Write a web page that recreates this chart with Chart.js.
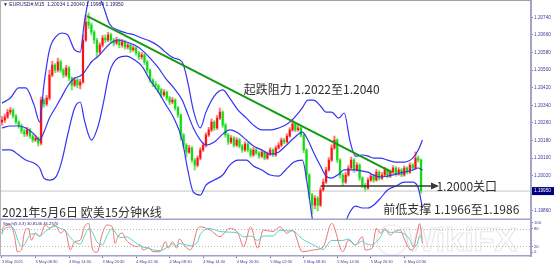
<!DOCTYPE html>
<html>
<head>
<meta charset="utf-8">
<script src="https://cdn.jsdelivr.net/npm/chart.js@4.4.1/dist/chart.umd.min.js"></script>
<style>
  html, body { margin: 0; padding: 0; background: #fff; }
  #wrap { position: relative; width: 554px; height: 265px; overflow: hidden; }
  #priceChart { position: absolute; left: 0; top: 0; }
  #stochChart { position: absolute; left: 0; top: 220px; }
</style>
</head>
<body>
<div id="wrap">
  <canvas id="priceChart" width="554" height="220"></canvas>
  <canvas id="stochChart" width="554" height="45"></canvas>
</div>
<script>
// EURUSD M15 - candles shown every 30 min, x counts M15 bars from 3 May 02:30

const barStep = 2;
const firstOpen = 1.20264;
const closes = [
  1.20273, 1.20287, 1.20309, 1.20318, 1.20291, 1.20264, 1.20246, 1.20223, 1.20209, 1.20228,
  1.20200, 1.20182, 1.20191, 1.20168, 1.20364, 1.20346, 1.20373, 1.20478, 1.20523, 1.20500,
  1.20537, 1.20500, 1.20478, 1.20510, 1.20464, 1.20432, 1.20455, 1.20432, 1.20446, 1.20637,
  1.20719, 1.20705, 1.20673, 1.20637, 1.20582, 1.20614, 1.20646, 1.20637, 1.20660, 1.20637,
  1.20623, 1.20637, 1.20614, 1.20628, 1.20605, 1.20614, 1.20592, 1.20601, 1.20578, 1.20560,
  1.20569, 1.20537, 1.20500, 1.20455, 1.20437, 1.20428, 1.20410, 1.20387, 1.20400, 1.20373,
  1.20355, 1.20364, 1.20328, 1.20296, 1.20205, 1.20159, 1.20127, 1.20146, 1.20091, 1.20068,
  1.20100, 1.20137, 1.20159, 1.20205, 1.20228, 1.20264, 1.20237, 1.20282, 1.20309, 1.20250,
  1.20205, 1.20173, 1.20191, 1.20159, 1.20182, 1.20155, 1.20137, 1.20164, 1.20137, 1.20114,
  1.20137, 1.20123, 1.20109, 1.20127, 1.20100, 1.20118, 1.20137, 1.20114, 1.20146, 1.20159,
  1.20182, 1.20173, 1.20200, 1.20228, 1.20255, 1.20228, 1.20237, 1.20205, 1.20137, 1.20023,
  1.19932, 1.19886, 1.19918, 1.19886, 1.19955, 1.19991, 1.20046, 1.20091, 1.20146, 1.20182,
  1.20091, 1.20023, 1.19991, 1.20023, 1.20055, 1.20091, 1.20046, 1.20068, 1.20009, 1.19977,
  1.19964, 1.20000, 1.20018, 1.20000, 1.20036, 1.20009, 1.20023, 1.20046, 1.20018, 1.20036,
  1.20055, 1.20027, 1.20046, 1.20023, 1.20055, 1.20036, 1.20068, 1.20055, 1.20100, 1.20091, 1.19950
];
const highs = [
  1.20290, 1.20300, 1.20322, 1.20330, 1.20325, 1.20298, 1.20270, 1.20255, 1.20232, 1.20240,
  1.20235, 1.20208, 1.20203, 1.20196, 1.20378, 1.20372, 1.20385, 1.20500, 1.20540, 1.20530,
  1.20555, 1.20546, 1.20508, 1.20522, 1.20516, 1.20470, 1.20466, 1.20462, 1.20458, 1.20660,
  1.20750, 1.20760, 1.20715, 1.20680, 1.20645, 1.20625, 1.20658, 1.20660, 1.20672, 1.20668,
  1.20645, 1.20650, 1.20642, 1.20640, 1.20636, 1.20625, 1.20620, 1.20612, 1.20608, 1.20585,
  1.20580, 1.20575, 1.20545, 1.20506, 1.20462, 1.20448, 1.20435, 1.20418, 1.20412, 1.20405,
  1.20380, 1.20376, 1.20370, 1.20335, 1.20300, 1.20212, 1.20166, 1.20158, 1.20152, 1.20098,
  1.20110, 1.20148, 1.20170, 1.20215, 1.20240, 1.20278, 1.20270, 1.20295, 1.20328, 1.20315,
  1.20258, 1.20212, 1.20202, 1.20198, 1.20193, 1.20190, 1.20162, 1.20175, 1.20170, 1.20144,
  1.20148, 1.20145, 1.20130, 1.20138, 1.20133, 1.20128, 1.20147, 1.20142, 1.20155, 1.20170,
  1.20192, 1.20190, 1.20210, 1.20238, 1.20273, 1.20262, 1.20250, 1.20242, 1.20210, 1.20142,
  1.20030, 1.19940, 1.19930, 1.19925, 1.19965, 1.20005, 1.20058, 1.20102, 1.20160, 1.20200,
  1.20188, 1.20098, 1.20030, 1.20035, 1.20066, 1.20105, 1.20098, 1.20080, 1.20074, 1.20015,
  1.19985, 1.20010, 1.20030, 1.20025, 1.20048, 1.20042, 1.20035, 1.20058, 1.20052, 1.20046,
  1.20066, 1.20060, 1.20056, 1.20052, 1.20064, 1.20060, 1.20078, 1.20075, 1.20128, 1.20110, 1.20096
];
const lows = [
  1.20250, 1.20262, 1.20280, 1.20298, 1.20282, 1.20255, 1.20236, 1.20212, 1.20198, 1.20200,
  1.20190, 1.20172, 1.20175, 1.20155, 1.20160, 1.20332, 1.20338, 1.20365, 1.20470, 1.20488,
  1.20492, 1.20490, 1.20466, 1.20470, 1.20452, 1.20410, 1.20425, 1.20420, 1.20415, 1.20440,
  1.20630, 1.20690, 1.20660, 1.20620, 1.20560, 1.20575, 1.20605, 1.20625, 1.20630, 1.20625,
  1.20610, 1.20615, 1.20602, 1.20605, 1.20595, 1.20596, 1.20580, 1.20585, 1.20568, 1.20548,
  1.20550, 1.20525, 1.20488, 1.20444, 1.20425, 1.20415, 1.20398, 1.20376, 1.20380, 1.20362,
  1.20344, 1.20348, 1.20318, 1.20285, 1.20182, 1.20148, 1.20105, 1.20120, 1.20080, 1.20046,
  1.20060, 1.20092, 1.20130, 1.20150, 1.20198, 1.20220, 1.20226, 1.20230, 1.20275, 1.20240,
  1.20195, 1.20162, 1.20166, 1.20150, 1.20152, 1.20146, 1.20126, 1.20130, 1.20128, 1.20104,
  1.20108, 1.20115, 1.20098, 1.20102, 1.20092, 1.20094, 1.20112, 1.20106, 1.20108, 1.20140,
  1.20152, 1.20165, 1.20168, 1.20195, 1.20222, 1.20220, 1.20222, 1.20196, 1.20125, 1.20005,
  1.19915, 1.19846, 1.19870, 1.19860, 1.19880, 1.19948, 1.19985, 1.20040, 1.20085, 1.20140,
  1.20080, 1.20010, 1.19975, 1.19985, 1.20018, 1.20048, 1.20035, 1.20040, 1.19998, 1.19965,
  1.19950, 1.19958, 1.19993, 1.19990, 1.19995, 1.20000, 1.20002, 1.20018, 1.20010, 1.20012,
  1.20030, 1.20018, 1.20022, 1.20015, 1.20018, 1.20028, 1.20030, 1.20046, 1.20050, 1.20082, 1.19940
];

// Bollinger bands, read at these M15 bar positions
const bandIdx = [
  0, 6, 12, 17, 23, 27, 30, 34, 39, 43, 47, 52, 56, 59, 62, 64, 69, 73, 77, 83,
  89, 95, 100, 106, 112, 117, 123, 129, 133, 137, 142, 146, 152, 158, 163, 169, 175, 180, 186, 192,
  198, 203, 209, 215, 219, 223, 228, 232, 236, 241, 245, 249, 253, 258, 262, 266, 271, 276, 282, 288,
  294, 298, 301
];
const bandUpper = [
  1.20350, 1.20373, 1.20419, 1.20419, 1.20341, 1.20264, 1.20432, 1.20592, 1.20655, 1.20669,
  1.20660, 1.20592, 1.20582, 1.20719, 1.20819, 1.20846, 1.20837, 1.20783, 1.20710, 1.20683,
  1.20669, 1.20660, 1.20646, 1.20632, 1.20610, 1.20582, 1.20555, 1.20537, 1.20446, 1.20318,
  1.20237, 1.20309, 1.20382, 1.20410, 1.20373, 1.20318, 1.20282, 1.20250, 1.20228, 1.20228,
  1.20237, 1.20250, 1.20282, 1.20328, 1.20364, 1.20364, 1.20337, 1.20309, 1.20309, 1.20282,
  1.20305, 1.20182, 1.20109, 1.20114, 1.20109, 1.20100, 1.20100, 1.20091, 1.20082, 1.20082,
  1.20100, 1.20137, 1.20182
];
const bandMiddle = [
  1.20237, 1.20246, 1.20246, 1.20237, 1.20209, 1.20182, 1.20218, 1.20282, 1.20337, 1.20382,
  1.20428, 1.20464, 1.20473, 1.20491, 1.20519, 1.20537, 1.20564, 1.20592, 1.20619, 1.20637,
  1.20628, 1.20614, 1.20592, 1.20555, 1.20510, 1.20464, 1.20419, 1.20364, 1.20300, 1.20237,
  1.20182, 1.20159, 1.20173, 1.20209, 1.20228, 1.20214, 1.20182, 1.20155, 1.20137, 1.20118,
  1.20127, 1.20155, 1.20191, 1.20218, 1.20182, 1.20127, 1.20064, 1.20018, 1.20009, 1.20027,
  1.20046, 1.20046, 1.20046, 1.20041, 1.20036, 1.20023, 1.20014, 1.20018, 1.20027, 1.20036,
  1.20046, 1.20055, 1.20046
];
const bandLower = [
  1.20137, 1.20137, 1.20114, 1.20091, 1.20077, 1.20055, 1.20009, 1.20000, 1.20018, 1.20091,
  1.20205, 1.20328, 1.20355, 1.20273, 1.20205, 1.20182, 1.20250, 1.20364, 1.20491, 1.20555,
  1.20564, 1.20546, 1.20519, 1.20455, 1.20400, 1.20346, 1.20282, 1.20182, 1.20046, 1.19945,
  1.19932, 1.19977, 1.20000, 1.20023, 1.20068, 1.20091, 1.20091, 1.20064, 1.20046, 1.20023,
  1.20018, 1.20046, 1.20082, 1.20091, 1.19964, 1.19795, 1.19750, 1.19727, 1.19727, 1.19750,
  1.19795, 1.19854, 1.19882, 1.19873, 1.19873, 1.19886, 1.19918, 1.19955, 1.19973, 1.19991,
  1.19991, 1.19964, 1.19873
];

// Stochastic (5,3,3)
const stochIdx = [
  0, 1, 6, 9, 11, 14, 16, 19, 21, 24, 27, 31, 34, 38, 42, 45, 49, 52, 56, 59,
  62, 65, 68, 72, 75, 79, 81, 83, 86, 89, 93, 97, 99, 101, 105, 108, 113, 117, 119, 122,
  125, 127, 131, 135, 140, 142, 149, 156, 163, 169, 173, 178, 183, 187, 194, 199, 204, 208, 215, 223,
  230, 236, 244, 248, 253, 258, 260, 265, 268, 271, 274, 278, 281, 285, 288, 292, 294, 297, 299, 301
];
const stochK = [
  64, 86, 92, 53, 2, 8, 65, 81, 41, 65, 53, 92, 82, 92, 65, 75, 8, 36, 41, 86,
  98, 8, 0, 65, 92, 86, 30, 53, 65, 41, 25, 19, 25, 8, 14, 2, 2, 36, 14, 36,
  14, 45, 20, 8, 80, 86, 75, 53, 81, 64, 19, 86, 14, 75, 70, 86, 64, 75, 2, 8,
  19, 98, 2, 41, 25, 53, 8, 14, 81, 64, 80, 58, 70, 75, 45, 10, 8, 60, 97, 30.8
];
const stochD = [
  60, 75, 85, 75, 45, 20, 25, 52, 62, 62, 55, 70, 80, 88, 80, 75, 50, 35, 28, 55,
  80, 65, 35, 25, 55, 80, 68, 55, 50, 52, 42, 28, 23, 17, 15, 8, 6, 13, 18, 28,
  22, 30, 26, 22, 36, 60, 80, 70, 68, 65, 52, 55, 40, 55, 55, 75, 72, 72, 45, 25,
  10, 40, 40, 45, 25, 38, 30, 25, 35, 52, 75, 67, 68, 67, 62, 42, 22, 25, 55, 45.3
];

const priceTicks = [1.20740, 1.20660, 1.20580, 1.20500, 1.20420, 1.20340, 1.20260, 1.20180, 1.20100, 1.20020, 1.19940, 1.19860];
const stochTicks = [0, 20, 80, 100];
const stochLevels = [20, 80];
const timeTickIdx = [0, 24, 48, 72, 96, 120, 144, 168, 192, 216, 240, 264, 288];
const timeLabels = ['3 May 2021', '3 May 08:30', '3 May 14:30', '3 May 20:30', '4 May 02:30', '4 May 08:30',
  '4 May 14:30', '4 May 20:30', '5 May 02:30', '5 May 08:30', '5 May 14:30', '5 May 20:30', '6 May 02:30'];

const lastPrice = 1.19950;
const trendIdx = [61, 279];
const trendPrice = [1.20746, 1.20036];
const levelIdx = [228, 310];
const levelPrice = 1.19973;

const notes = [
  { text: '起跌阻力 1.2022至1.2040', idx: 173, price: 1.20410 },
  { text: '1.2000关口', idx: 311, price: 1.19973 },
  { text: '前低支撑 1.1966至1.1986', idx: 273, price: 1.19868 },
  { text: '2021年5月6日 欧美15分钟K线', idx: 0, price: 1.19854 }
];

const xMin = -0.7, xMax = 378.7;
const axisColor = '#3c3ca0';
const frameColor = '#a2a2cc';
const tickFont = { family: 'Liberation Sans', size: 4.7 };

Chart.defaults.font.family = 'Liberation Sans';

// build candle series
const opens = closes.map((c, k) => (k === 0 ? firstOpen : closes[k - 1]));
const isUp = closes.map((c, k) => c >= opens[k]);
const bodyColors = isUp.map(u => (u ? '#ff1010' : '#10dc10'));
const wickColors = isUp.map(u => (u ? '#ff7070' : '#60e860'));
const haloColors = isUp.map(u => (u ? '#ffd6d6' : '#d2f6d2'));

const fixRightAxis = (s) => { s.width = 23; s.paddingTop = 0; s.paddingBottom = 0; };

const priceDecor = {
  id: 'priceDecor',
  afterDatasetsDraw(chart) {
    const { ctx, chartArea: a, scales: { x, y } } = chart;
    ctx.save();
    // arrow head on the 1.2000 line
    const ax = x.getPixelForValue(levelIdx[1]);
    const ay = y.getPixelForValue(levelPrice);
    ctx.fillStyle = '#3a3a3a';
    ctx.beginPath();
    ctx.moveTo(ax + 4, ay);
    ctx.lineTo(ax - 4, ay - 3.5);
    ctx.lineTo(ax - 4, ay + 3.5);
    ctx.closePath();
    ctx.fill();

    // hand written notes
    ctx.font = '12px "Noto Sans CJK SC"';
    ctx.fillStyle = '#2e2e2e';
    ctx.textBaseline = 'middle';
    ctx.textAlign = 'left';
    notes.forEach(n => ctx.fillText(n.text, x.getPixelForValue(n.idx), y.getPixelForValue(n.price)));

    // symbol line
    ctx.font = '5px "Liberation Sans"';
    ctx.fillStyle = '#1c1c6c';
    ctx.fillText('\u25BC EURUSD#,M15  1.20034 1.20040 1.19984 1.19950', 3, 5);

    // current price box on the axis
    const py = y.getPixelForValue(lastPrice);
    ctx.fillStyle = '#000080';
    ctx.fillRect(a.right + 1, py - 4, 22, 8);
    ctx.fillStyle = '#ffffff';
    ctx.font = '4.7px "Liberation Sans"';
    ctx.fillText(lastPrice.toFixed(5), a.right + 3, py);

    // frame
    ctx.fillStyle = '#a0a0a0';
    ctx.fillRect(0, 0, a.right, 1);
    ctx.fillStyle = '#b4b4b4';
    ctx.fillRect(0, 0, 1, a.bottom);
    ctx.fillStyle = frameColor;
    ctx.fillRect(0, a.bottom - 0.5, a.right + 1, 1.5);
    ctx.restore();
  }
};

new Chart(document.getElementById('priceChart'), {
  type: 'bar',
  data: {
    datasets: [
      {
        type: 'line', order: 9,
        data: [{ x: xMin, y: lastPrice }, { x: xMax, y: lastPrice }],
        borderColor: '#c4c4c4', borderWidth: 1, pointRadius: 0
      },
      {
        type: 'bar', order: 5, grouped: false, barThickness: 2.6,
        data: closes.map((c, k) => ({ x: k * barStep, y: [lows[k], highs[k]] })),
        backgroundColor: haloColors
      },
      {
        type: 'bar', order: 4, grouped: false, barThickness: 0.9,
        data: closes.map((c, k) => ({ x: k * barStep, y: [lows[k], highs[k]] })),
        backgroundColor: wickColors
      },
      {
        type: 'bar', order: 3, grouped: false, barThickness: 1.4,
        data: closes.map((c, k) => ({ x: k * barStep, y: [opens[k], c] })),
        backgroundColor: bodyColors
      },
      ...[bandUpper, bandMiddle, bandLower].map(band => ({
        type: 'line', order: 2,
        data: bandIdx.map((v, i) => ({ x: v, y: band[i] })),
        borderColor: '#3434f2', borderWidth: 1.2, pointRadius: 0,
        cubicInterpolationMode: 'monotone'
      })),
      {
        type: 'line', order: 1,
        data: trendIdx.map((v, i) => ({ x: v, y: trendPrice[i] })),
        borderColor: '#129a12', borderWidth: 2, pointRadius: 0
      },
      {
        type: 'line', order: 1,
        data: levelIdx.map(v => ({ x: v, y: levelPrice })),
        borderColor: '#3a3a3a', borderWidth: 1.6, pointRadius: 0
      }
    ]
  },
  options: {
    responsive: false,
    animation: false,
    events: [],
    layout: { padding: { left: 1, right: 0, top: 0, bottom: 1 } },
    plugins: { legend: { display: false }, tooltip: { enabled: false } },
    scales: {
      x: { type: 'linear', min: xMin, max: xMax, offset: false, display: false, grid: { offset: false } },
      y: {
        position: 'right',
        min: 1.19823,
        max: 1.20819,
        beginAtZero: false,
        afterBuildTicks: s => { s.ticks = priceTicks.map(v => ({ value: v })); },
        afterFit: fixRightAxis,
        ticks: { font: tickFont, color: axisColor, padding: 1, autoSkip: false, callback: v => v.toFixed(5) },
        grid: { drawOnChartArea: false, tickLength: 2, color: '#7a7abc' },
        border: { color: frameColor, width: 2 }
      }
    }
  },
  plugins: [priceDecor]
});

const stochDecor = {
  id: 'stochDecor',
  beforeDatasetsDraw(chart) {
    const { ctx, chartArea: a, scales: { y } } = chart;
    ctx.save();
    // watermark
    ctx.globalAlpha = 0.35;
    ctx.strokeStyle = '#bdbdbd';
    ctx.lineWidth = 1.2;
    ctx.beginPath();
    ctx.arc(392, 20, 15, 0, Math.PI * 2);
    ctx.stroke();
    ctx.font = 'bold 34px "Liberation Sans"';
    ctx.textBaseline = 'middle';
    ctx.strokeText('WikiFX', 404, 22);
    ctx.globalAlpha = 1;
    // 20 / 80 levels
    ctx.strokeStyle = '#b8b8b8';
    ctx.lineWidth = 1;
    ctx.setLineDash([1, 2]);
    stochLevels.forEach(l => {
      const ly = Math.round(y.getPixelForValue(l)) + 0.5;
      ctx.beginPath();
      ctx.moveTo(a.left, ly);
      ctx.lineTo(a.right, ly);
      ctx.stroke();
    });
    ctx.restore();
  },
  afterDraw(chart) {
    const { ctx, chartArea: a } = chart;
    ctx.save();
    ctx.fillStyle = '#b4b4b4';
    ctx.fillRect(0, 0, 1, a.bottom);
    ctx.font = '4.2px "Liberation Sans"';
    ctx.fillStyle = '#2a2a7a';
    ctx.textBaseline = 'middle';
    ctx.fillText('Stoch(5,3,3) 30.8146 45.2570', 3, 3.5);
    ctx.restore();
  }
};

new Chart(document.getElementById('stochChart'), {
  type: 'line',
  data: {
    datasets: [
      {
        data: stochIdx.map((v, i) => ({ x: v, y: stochD[i] })),
        borderColor: '#52d2c6', borderWidth: 1, pointRadius: 0, cubicInterpolationMode: 'monotone'
      },
      {
        data: stochIdx.map((v, i) => ({ x: v, y: stochK[i] })),
        borderColor: '#f07272', borderWidth: 1, pointRadius: 0, cubicInterpolationMode: 'monotone'
      }
    ]
  },
  options: {
    responsive: false,
    animation: false,
    events: [],
    layout: { padding: { left: 1, right: 0, top: 0, bottom: 0 } },
    plugins: { legend: { display: false }, tooltip: { enabled: false } },
    scales: {
      x: {
        type: 'linear', min: xMin, max: xMax, position: 'bottom',
        afterBuildTicks: s => { s.ticks = timeTickIdx.map(v => ({ value: v })); },
        afterFit: s => { s.height = 9; s.paddingLeft = 0; s.paddingRight = 0; },
        ticks: {
          font: { family: 'Liberation Sans', size: 4 }, color: axisColor, padding: 1,
          align: 'start', maxRotation: 0, autoSkip: false,
          callback: (v, i) => timeLabels[i]
        },
        grid: { drawOnChartArea: false, tickLength: 2, color: '#5a5ab0' },
        border: { color: frameColor, width: 1.5 }
      },
      y: {
        position: 'right', min: -12.5, max: 109,
        afterBuildTicks: s => { s.ticks = stochTicks.map(v => ({ value: v })); },
        afterFit: fixRightAxis,
        ticks: { font: { family: 'Liberation Sans', size: 4.2 }, color: axisColor, padding: 1, autoSkip: false },
        grid: { drawOnChartArea: false, tickLength: 2, color: '#7a7abc' },
        border: { color: frameColor, width: 2 }
      }
    }
  },
  plugins: [stochDecor]
});
</script>
</body>
</html>
